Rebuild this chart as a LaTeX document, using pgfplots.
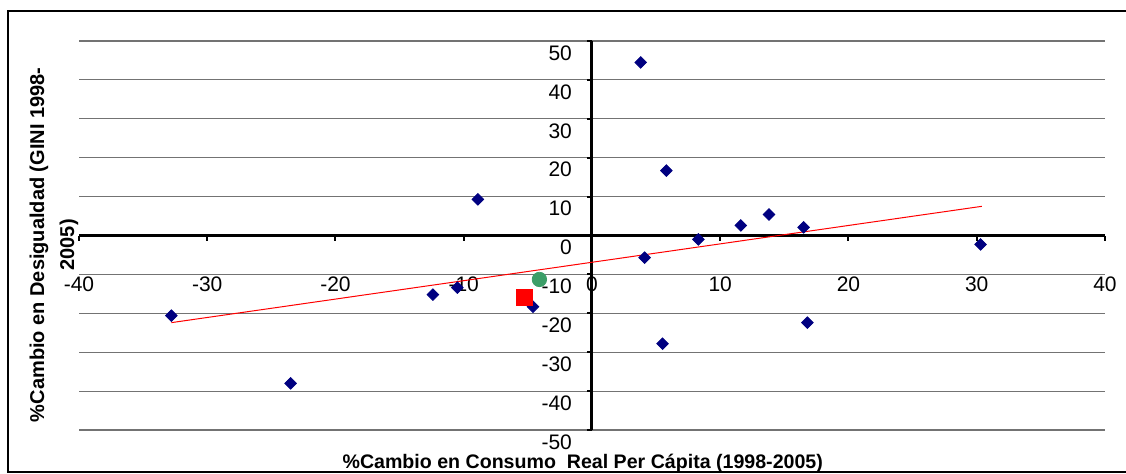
\documentclass[border=0pt]{standalone}
\usepackage{pgfplots}
\pgfplotsset{compat=1.18}
\usepackage{fontspec}
\setmainfont{Liberation Sans}

\definecolor{navy}{RGB}{0,0,128}
\definecolor{dotgreen}{RGB}{60,158,104}

\begin{document}
\begin{tikzpicture}
\useasboundingbox (0,0) rectangle (563pt,236.5pt);
\draw[line width=0.75pt] (4pt,0.6pt) rectangle (575pt,231pt);
\begin{axis}[
    at={(39.5pt,21.5pt)}, anchor=south west,
    scale only axis,
    width=513pt, height=194.5pt,
    xmin=-40, xmax=40, ymin=-50, ymax=50,
    axis lines=middle,
    axis line style={-, line width=1.5pt, black},
    hide obscured x ticks=false,
    hide obscured y ticks=false,
    xtick={-40,-30,...,40},
    ytick={-50,-40,...,50},
    tick align=outside,
    major tick length=2.5pt,
    tick style={line width=1pt, black},
    ymajorgrids,
    grid style={line width=0.6pt, black!55},
    /pgf/number format/assume math mode=true,
    ticklabel style={font=\fontsize{10.5}{12}\selectfont},
    xticklabel style={anchor=center, yshift=-22pt},
    yticklabel style={anchor=east, xshift=-4pt, yshift=-6pt},
    xlabel={\%Cambio en Consumo\ \ Real Per Cápita (1998-2005)},
    xlabel style={at={(axis description cs:0.491,-0.1)}, anchor=base,
        font=\bfseries\fontsize{9.8}{12}\selectfont},
    ylabel={\%Cambio en Desigualdad (GINI 1998-\\2005)},
    ylabel style={at={(axis description cs:-0.0245,0.476)}, anchor=center,
        rotate=90, align=center, font=\bfseries\fontsize{10}{15}\selectfont},
    clip=false,
]
% trend line
\addplot[red, line width=0.5pt] coordinates {(-32.8,-22.4) (30.4,7.5)};
% countries
\addplot[only marks, mark=square*, mark size=2.05pt,
    mark options={rotate=45, fill=navy, draw=navy}] coordinates {
    (-32.8,-20.6) (-23.5,-38.0) (-12.4,-15.2) (-10.5,-13.4)
    (-8.9,9.3) (-4.6,-18.3) (3.8,44.5) (4.1,-5.7)
    (5.5,-27.8) (5.8,16.7) (8.3,-1.0) (11.6,2.6)
    (13.8,5.4) (16.5,2.1) (16.8,-22.4) (30.3,-2.3)
};
\addplot[only marks, mark=square*, mark size=4pt,
    mark options={fill=red, draw=red}] coordinates {(-5.3,-15.9)};
\addplot[only marks, mark=*, mark size=3.6pt,
    mark options={fill=dotgreen, draw=dotgreen}] coordinates {(-4.1,-11.3)};
\end{axis}
\end{tikzpicture}
\end{document}
